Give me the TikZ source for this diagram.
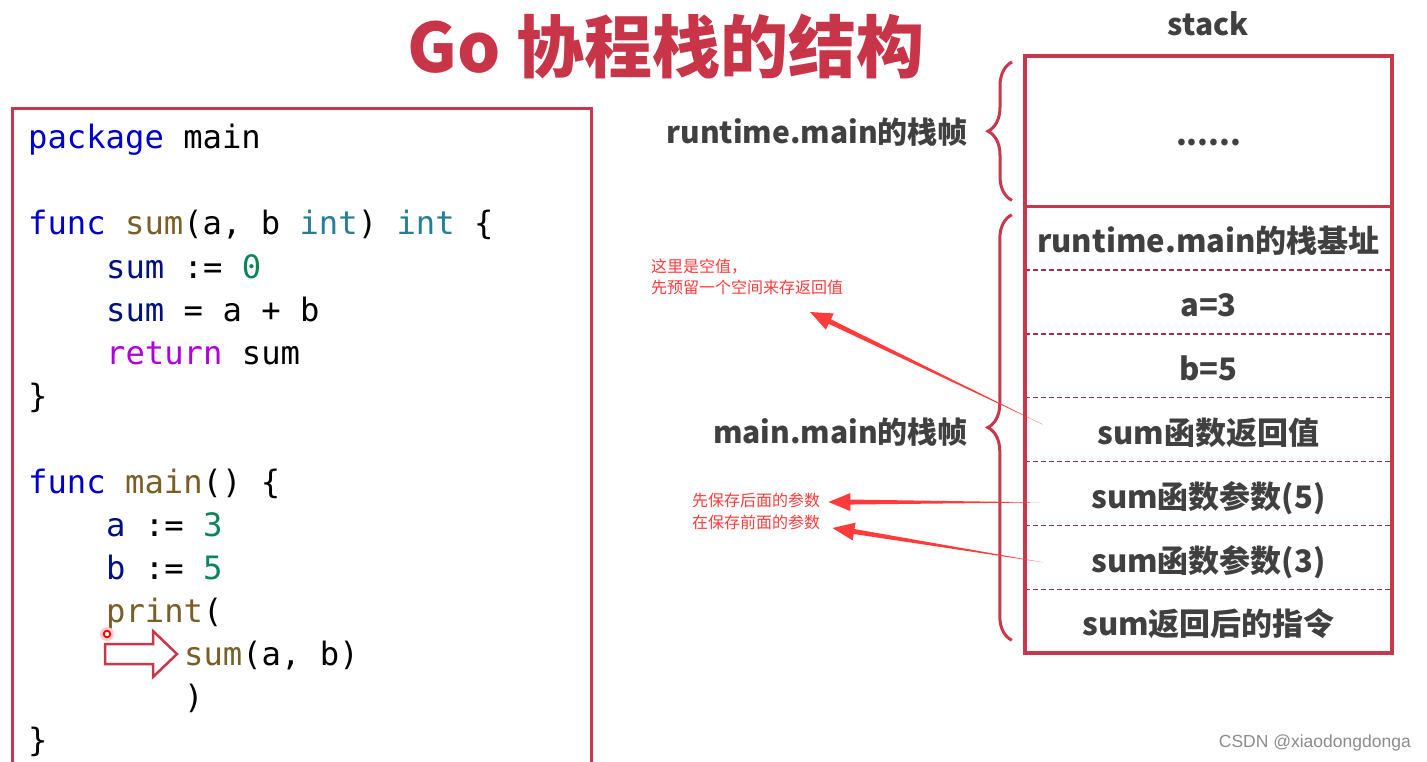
\documentclass[tikz,border=0pt]{standalone}
\usepackage{fontspec}
\usetikzlibrary{calc,decorations.pathreplacing}
\newfontfamily\cjk{Noto Sans CJK SC}
\newfontfamily\codefont{DejaVu Sans Mono}
\newfontfamily\wmfont{Liberation Sans}
\definecolor{boxred}{RGB}{200,56,76}
\definecolor{titlered}{RGB}{200,52,72}
\definecolor{annred}{RGB}{255,59,59}
\definecolor{txtgray}{RGB}{64,64,64}
\definecolor{sepred}{RGB}{165,45,80}
\definecolor{kwblue}{RGB}{0,0,205}
\definecolor{fnbrown}{RGB}{121,94,38}
\definecolor{tyteal}{RGB}{38,127,153}
\definecolor{nmgreen}{RGB}{9,134,88}
\definecolor{vanavy}{RGB}{0,16,128}
\definecolor{rtpurple}{RGB}{175,0,219}
\newcommand\ckw[1]{\textcolor{kwblue}{#1}}
\newcommand\cfn[1]{\textcolor{fnbrown}{#1}}
\newcommand\cty[1]{\textcolor{tyteal}{#1}}
\newcommand\cnm[1]{\textcolor{nmgreen}{#1}}
\newcommand\cva[1]{\textcolor{vanavy}{#1}}
\newcommand\crt[1]{\textcolor{rtpurple}{#1}}
\newcommand\wedgearrow[2]{%
  \path ($(#2)!22pt!(#1)$) coordinate (wb);
  \fill[annred] (#1) -- ($(wb)!2.5pt!90:(#1)$) -- ($(wb)!9pt!90:(#1)$) -- (#2)
     -- ($(wb)!9pt!-90:(#1)$) -- ($(wb)!2.5pt!-90:(#1)$) -- cycle;}
\tikzset{
  codeline/.style={anchor=base west, inner sep=0, text=black, font=\codefont\fontsize{32.2}{40}\selectfont},
  row/.style={minimum width=367, minimum height=63.86, inner sep=0, text height=34.6pt, text depth=5pt, text=txtgray, font=\cjk\bfseries\fontsize{31}{36}\selectfont},
  lbl/.style={anchor=east, inner sep=0, text=txtgray, font=\cjk\bfseries\fontsize{30}{36}\selectfont},
  annot/.style={inner sep=0, text=annred, font=\cjk\fontsize{16}{21}\selectfont},
  sep/.style={sepred, line width=1.3, dash pattern=on 5pt off 3pt},
  brc/.style={decorate, decoration={brace, amplitude=24pt, aspect=0.5}, boxred, line width=3},
}
\begin{document}
\begin{tikzpicture}[x=1pt, y=-1pt]
\useasboundingbox[fill=white] (0,0) rectangle (1427,762);

% title
\node[text=titlered, font=\cjk\bfseries\fontsize{68}{72}\selectfont, inner sep=0] (title) at (666,47) {Go 协程栈的结构};
\node[text=txtgray, font=\cjk\bfseries\fontsize{30}{34}\selectfont, inner sep=0] (stacklbl) at (1208,24) {stack};

% code box
\node[draw=boxred, line width=3, minimum width=579, minimum height=700, anchor=north west, inner sep=0] (code) at (11,107) {};
\node[codeline] (c0) at (28,149) {\ckw{package} main};
\node[codeline] (c2) at (28,235) {\ckw{func} \cfn{sum}(a, b \cty{int}) \cty{int} \{};
\node[codeline] (c3) at (106,278) {\cva{sum} := \cnm{0}};
\node[codeline] (c4) at (106,321) {\cva{sum} = a + b};
\node[codeline] (c5) at (106,364) {\crt{return} sum};
\node[codeline] (c6) at (28,407) {\}};
\node[codeline] (c8) at (28,493) {\ckw{func} \cfn{main}() \{};
\node[codeline] (c9) at (106,536) {\cva{a} := \cnm{3}};
\node[codeline] (c10) at (106,579) {\cva{b} := \cnm{5}};
\node[codeline] (c11) at (106,622) {\cfn{print}(};
\node[codeline] (c12) at (184,665) {\cfn{sum}(a, b)};
\node[codeline] (c13) at (184,708) {)};
\node[codeline] (c14) at (28,751) {\}};

% hollow arrow pointing at sum(a, b)
\draw[boxred, line width=2.5, fill=white, line join=miter]
  (105,644) -- (153,644) -- (153,631) -- (177,654) -- (153,677) -- (153,664) -- (105,664) -- cycle;
\fill[red!20] (107,634) circle (7);
\draw[red, line width=1.8, fill=white] (107,634) circle (3.3);

% stack
\node[row, minimum height=150, anchor=north west] (top) at (1025,56) {......};
\node[row] (r1) at (1208.5,237.9) {runtime.main的栈基址};
\node[row] (r2) at (1208.5,301.8) {a=3};
\node[row] (r3) at (1208.5,365.7) {b=5};
\node[row] (r4) at (1208.5,429.5) {sum函数返回值};
\node[row] (r5) at (1208.5,493.4) {sum函数参数(5)};
\node[row] (r6) at (1208.5,557.3) {sum函数参数(3)};
\node[row] (r7) at (1208.5,621.1) {sum返回后的指令};
\foreach \r in {r1,r2,r3,r4,r5,r6}
  \draw[sep] (\r.south west) -- (\r.south east);
\draw[boxred, line width=3] (top.south west) -- (top.south east);
\draw[boxred, line width=3.5] (top.north west) rectangle (r7.south east);

% braces and frame labels
\draw[brc] ($(top.south west)+(-13,-6)$) -- ($(top.north west)+(-13,6)$);
\draw[brc] ($(r7.south west)+(-13,-13)$) -- ($(r1.north west)+(-13,9)$);
\node[lbl] (lab1) at (968,132) {runtime.main的栈帧};
\node[lbl] (lab2) at (968,432) {main.main的栈帧};

% annotations
\node[annot, align=left, anchor=north west] (ann1) at (651,259) {这里是空值，\\先预留一个空间来存返回值};
\node[annot, anchor=west] (ann2) at (692,500) {先保存后面的参数};
\node[annot, anchor=west] (ann3) at (692,522) {在保存前面的参数};

\coordinate (t1) at ($(r4.west)+(18,-5)$);
\coordinate (h1) at (810,312);
\coordinate (t2) at ($(r5.west)+(15,9)$);
\coordinate (h2) at ($(ann2.east)+(8,2)$);
\coordinate (t3) at ($(r6.west)+(18,5)$);
\coordinate (h3) at ($(ann3.east)+(12,6)$);
\wedgearrow{t1}{h1}
\wedgearrow{t2}{h2}
\wedgearrow{t3}{h3}

% watermark
\node[anchor=east, inner sep=0, text=black!45, font=\wmfont\fontsize{17.5}{20}\selectfont] (wm) at (1411,743) {CSDN @xiaodongdonga};
\end{tikzpicture}
\end{document}
